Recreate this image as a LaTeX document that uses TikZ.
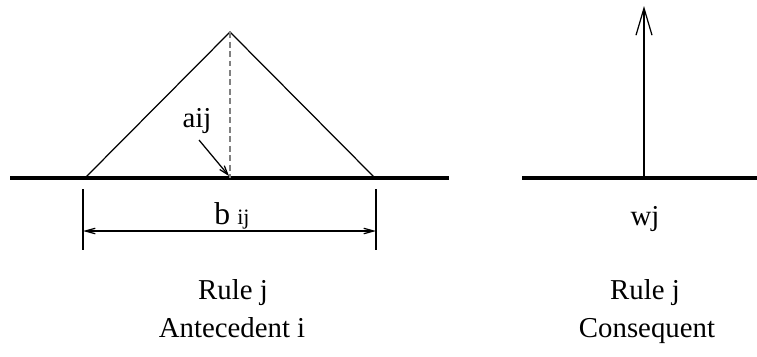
\documentclass[tikz,border=0pt]{standalone}
\usepackage{fontspec}
\setmainfont{Liberation Serif}
\usetikzlibrary{arrows.meta}

\tikzset{
  axisline/.style={line width=2pt},
  fine/.style={line width=0.7pt},
  smalltip/.style={-{Straight Barb[length=1.8mm,width=1.2mm]}},
  dimtips/.style={{Straight Barb[length=2mm,width=1.1mm]}-{Straight Barb[length=2mm,width=1.1mm]}},
  bigtip/.style={-{Straight Barb[length=5.4mm,width=3.2mm]}},
  lbl/.style={anchor=base, inner sep=0pt}
}

\begin{document}
\begin{tikzpicture}[x=0.02cm, y=-0.02cm, font=\fontsize{16.4}{19}\selectfont]
    \useasboundingbox (0,0) rectangle (757,356);

    % Опорные точки левой части
    \coordinate (L1)    at (10,178);
    \coordinate (L2)    at (449,178);
    \coordinate (foot1) at (85,178);
    \coordinate (apex)  at (230,32);
    \coordinate (foot2) at (375,178);
    \coordinate (mid)   at (230,178);

    % Ось и треугольник
    \draw[axisline] (L1) -- (L2);
    \draw[fine] (foot1) -- (apex) -- (foot2);
    \draw[fine, gray, dash pattern=on 0.12cm off 0.07cm] (apex) -- (mid);

    % Подпись aij со стрелкой к центру
    \node[lbl] (aij) at (197,127) {aij};
    \coordinate (aijtail) at (199,140);
    \coordinate (aijhead) at (229,176);
    \draw[fine, smalltip] (aijtail) -- (aijhead);

    % Размерная линия b_ij
    \coordinate (t1a) at (83,189);  \coordinate (t1b) at (83,250);
    \coordinate (t2a) at (376,189); \coordinate (t2b) at (376,250);
    \draw[fine] (t1a) -- (t1b);
    \draw[fine] (t2a) -- (t2b);
    \coordinate (d1) at (83,231);
    \coordinate (d2) at (376,231);
    \draw[fine, dimtips] (d1) -- (d2);
    \node[lbl] (bij) at (232,224) {{\fontsize{18}{20}\selectfont b}\hspace{4pt}{\fontsize{12.5}{14}\selectfont ij}};

    % Правая часть: ось и стрелка веса
    \coordinate (R1)   at (522,178);
    \coordinate (R2)   at (757,178);
    \coordinate (wbot) at (644,178);
    \coordinate (wtop) at (644,6);
    \draw[axisline] (R1) -- (R2);
    \draw[fine, bigtip] (wbot) -- (wtop);
    \node[lbl] (wj) at (645,225) {wj};

    % Нижние подписи
    \node[lbl] (rule1) at (233,299) {Rule j};
    \node[lbl] (ante)  at (232,337) {Antecedent i};
    \node[lbl] (rule2) at (645,299) {Rule j};
    \node[lbl] (cons)  at (647,337) {Consequent};

\end{tikzpicture}
\end{document}
